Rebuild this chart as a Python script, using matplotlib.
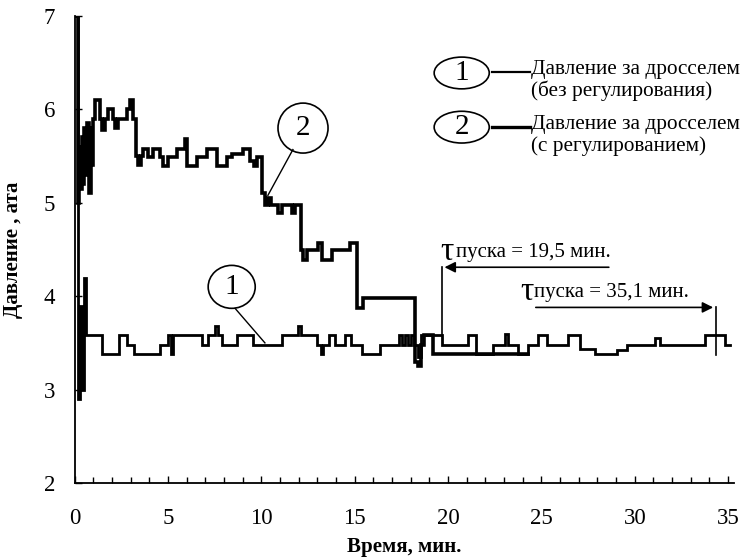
import matplotlib
matplotlib.use("Agg")
import matplotlib.pyplot as plt
from matplotlib.patches import Ellipse

plt.rcParams['font.family'] = ['Liberation Serif', 'DejaVu Serif']

# ---- data (change points, drawn as steps) ----
t1 = [0.05, 0.15, 0.3, 0.4, 0.5, 0.6, 1.44, 2.35, 2.8, 3.2, 4.55, 5.0, 5.15, 5.25,
      6.8, 7.16, 7.5, 7.68, 7.87, 8.68, 9.57, 11.09, 11.98, 12.1, 12.96, 13.2, 13.3,
      13.6, 13.94, 14.5, 14.78, 15.37, 16.35, 17.35, 17.55, 17.7, 17.85, 18.0, 18.15,
      18.4, 18.55, 19.65, 21.08, 21.5, 22.42, 23.05, 23.2, 23.76, 24.3, 24.83, 25.28,
      26.44, 27.07, 27.87, 29.03, 29.57, 31.08, 31.35, 33.76, 34.83, 35.1]
p1 = [7.0, 2.9, 3.9, 3.0, 4.2, 3.58, 3.38, 3.58, 3.48, 3.38, 3.48, 3.58, 3.38, 3.58,
      3.48, 3.58, 3.68, 3.58, 3.48, 3.58, 3.48, 3.58, 3.68, 3.58, 3.48, 3.38, 3.48,
      3.58, 3.48, 3.58, 3.48, 3.38, 3.48, 3.58, 3.48, 3.58, 3.48, 3.58, 3.48,
      3.35, 3.58, 3.48, 3.58, 3.38, 3.48, 3.6, 3.48, 3.38, 3.48, 3.58, 3.48,
      3.58, 3.43, 3.38, 3.42, 3.48, 3.55, 3.48, 3.58, 3.48, 3.48]

t2 = [0.0, 0.15, 0.22, 0.3, 0.38, 0.45, 0.52, 0.6, 0.68, 0.75, 0.85, 0.92, 1.0, 1.1,
      1.36, 1.45, 1.62, 1.8, 2.03, 2.16, 2.34, 2.78, 2.96, 3.14, 3.28, 3.41, 3.55,
      3.67, 3.94, 4.21, 4.57, 4.75, 5.01, 5.46, 5.9, 6.0, 6.53, 7.07, 7.6, 8.14,
      8.41, 9.03, 9.39, 9.6, 9.75, 10.02, 10.19, 10.37, 10.5, 10.91, 11.09, 11.62,
      11.8, 12.1, 12.25, 12.43, 13.05, 13.23, 13.77, 14.75, 15.1, 15.46, 18.23,
      18.4, 18.55, 18.7, 19.2, 24.3]
p2 = [7.0, 5.0, 5.6, 5.15, 5.7, 5.2, 5.8, 5.3, 5.85, 5.1, 5.8, 5.4, 5.9, 6.1,
      5.9, 5.78, 5.9, 6.0, 5.9, 5.8, 5.9, 6.0, 6.1, 5.9, 5.5, 5.4, 5.5,
      5.58, 5.49, 5.58, 5.49, 5.39, 5.49, 5.58, 5.68, 5.39, 5.49, 5.58, 5.39, 5.49,
      5.52, 5.58, 5.45, 5.39, 5.49, 5.1, 4.98, 5.05, 4.98, 4.89, 4.98, 4.89,
      4.98, 4.49, 4.39, 4.49, 4.57, 4.39, 4.49, 4.57, 3.87, 3.98, 3.3,
      3.25, 3.48, 3.58, 3.38, 3.38]

xticks = [0, 5, 10, 15, 20, 25, 30, 35]
yticks = [2, 3, 4, 5, 6, 7]

legend1 = "Давление за дросселем\n(без регулирования)"
legend2 = "Давление за дросселем\n(с регулированием)"
tau1_text = "пуска = 19,5 мин."
tau2_text = "пуска = 35,1 мин."

# ---- figure ----
W, H = 745, 558
fig = plt.figure(figsize=(W / 100, H / 100), dpi=100)
x0, xmax_px = 74.7, 733.7
ytop, ybot = 16, 483
ax = fig.add_axes([x0 / W, (H - ybot) / H, (xmax_px - x0) / W, (ybot - ytop) / H])
ax.set_xlim(0, 35.3)
ax.set_ylim(2, 7)

ax.plot(t1, p1, color='black', lw=2.0, drawstyle='steps-post', solid_joinstyle='miter')
ax.plot(t2, p2, color='black', lw=2.6, drawstyle='steps-post', solid_joinstyle='miter')

for s in ['top', 'right']:
    ax.spines[s].set_visible(False)
for s in ['left', 'bottom']:
    ax.spines[s].set_linewidth(1.3)

ax.set_xticks(xticks)
ax.set_xticks(range(0, 36), minor=True)
ax.set_yticks(yticks)
ax.tick_params(axis='both', which='both', direction='in', width=1.0, color='black')
ax.tick_params(axis='both', which='major', length=5, labelsize=16.5)
ax.tick_params(axis='both', which='minor', length=4)
ax.tick_params(axis='x', which='major', pad=18)
ax.tick_params(axis='y', which='major', pad=14)

ax.set_xlabel("Время, мин.", fontsize=15, fontweight='bold', labelpad=6)
ax.set_ylabel("Давление , ата", fontsize=15, fontweight='bold', labelpad=15)

# ---- annotations ----
def ell(cx, cy, w, h, label):
    e = Ellipse((cx, cy), w, h, fill=False, edgecolor='black', lw=1.2, clip_on=False)
    ax.add_patch(e)
    ax.text(cx, cy, label, ha='center', va='center', fontsize=21)

# curve labels
ell(8.41, 4.10, 2.52, 0.46, "1")
ax.plot([8.59, 10.19], [3.87, 3.50], color='black', lw=1.0)
ell(12.23, 5.80, 2.68, 0.535, "2")
ax.plot([11.69, 10.35], [5.57, 5.08], color='black', lw=1.0)

# legend
ell(20.73, 6.39, 2.95, 0.34, "1")
ax.plot([22.33, 24.39], [6.40, 6.40], color='black', lw=1.6, clip_on=False)
ax.text(24.45, 6.53, legend1, ha='left', va='top', fontsize=15.3, linespacing=1.12)
ell(20.73, 5.81, 2.95, 0.34, "2")
ax.plot([22.33, 24.39], [5.81, 5.81], color='black', lw=2.4, clip_on=False)
ax.text(24.45, 5.94, legend2, ha='left', va='top', fontsize=15.3, linespacing=1.12)

# tau arrows
ax.annotate("", xy=(19.66, 4.31), xytext=(28.76, 4.31),
            arrowprops=dict(arrowstyle='-|>', color='black', lw=1.2, mutation_scale=16))
ax.plot([19.66, 19.66], [4.31, 3.58], color='black', lw=1.2)
ax.text(19.6, 4.48, "τ", ha='left', va='center', fontsize=24)
ax.text(20.45, 4.47, tau1_text, ha='left', va='center', fontsize=15)

ax.annotate("", xy=(34.35, 3.88), xytext=(24.55, 3.88),
            arrowprops=dict(arrowstyle='-|>', color='black', lw=1.2, mutation_scale=16))
ax.plot([34.35, 34.35], [3.88, 3.37], color='black', lw=1.2)
ax.text(23.87, 4.05, "τ", ha='left', va='center', fontsize=24)
ax.text(24.6, 4.04, tau2_text, ha='left', va='center', fontsize=15)

fig.savefig("out.png", dpi=100)
